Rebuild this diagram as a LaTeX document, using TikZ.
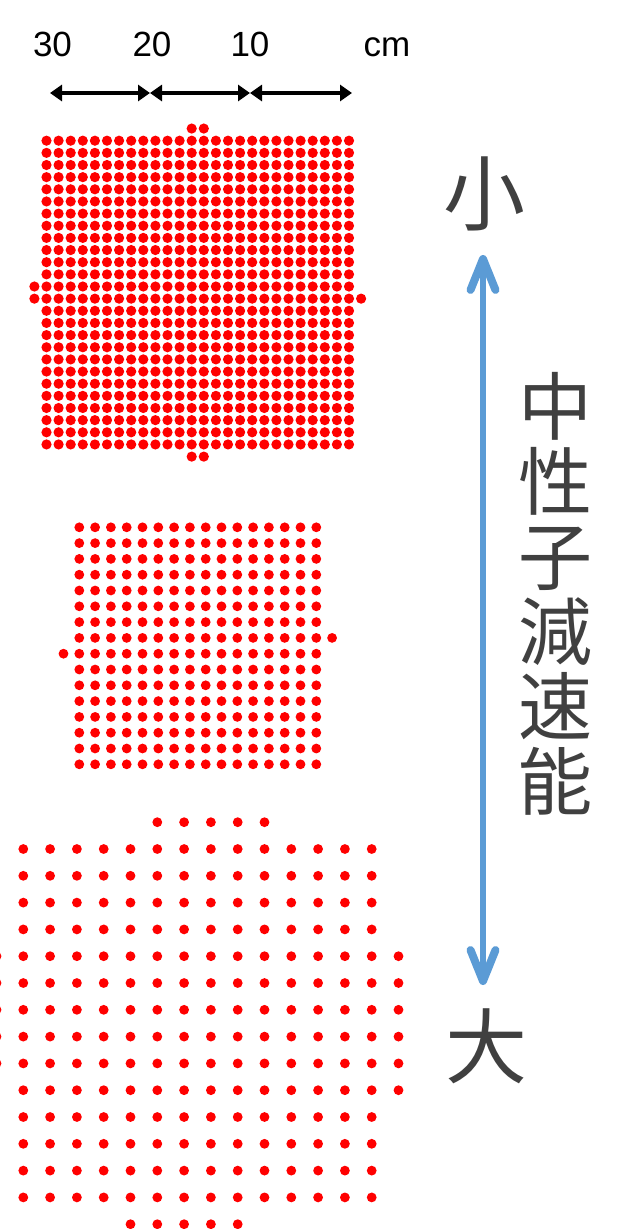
\documentclass[tikz,border=0pt]{standalone}
\usepackage{fontspec}
\setmainfont{Liberation Sans}
\newfontfamily\cjk{Noto Sans CJK JP}
\usetikzlibrary{arrows.meta}
\definecolor{dotred}{RGB}{255,0,0}
\definecolor{cjkgray}{RGB}{64,64,64}
\definecolor{scaleblue}{RGB}{91,155,213}
\tikzset{
  dotA/.style={fill=dotred},
  scalearrow/.style={line width=3.2pt,{Triangle[length=12pt,width=16pt]}-{Triangle[length=12pt,width=16pt]}},
  numlbl/.style={font=\fontsize{35}{40}\selectfont, anchor=base, inner sep=0pt},
  bigcjk/.style={font=\cjk\fontsize{82}{82}\selectfont, text=cjkgray, inner sep=0pt},
  vertcjk/.style={font=\cjk\fontsize{74}{75}\selectfont, text=cjkgray, inner sep=0pt, align=center},
  bluearrow/.style={draw=scaleblue, line width=6.5pt, line cap=round,
    {Straight Barb[length=31pt,width=25pt,round,line width=8pt]}-{Straight Barb[length=31pt,width=25pt,round,line width=8pt]}}
}
\begin{document}
\begin{tikzpicture}[x=1pt,y=-1pt]
\useasboundingbox (0,0) rectangle (630,1229);
% scale bar
\node[numlbl] (l30) at (52.5,56) {30};
\node[numlbl] (l20) at (152,56) {20};
\node[numlbl] (l10) at (250,56) {10};
\node[numlbl] (lcm) at (387,56) {cm};
\coordinate (s30) at (50,93);
\coordinate (s20) at (150,93);
\coordinate (s10) at (250,93);
\coordinate (s0) at (352,93);
\draw[scalearrow] (s30) -- (s20);
\draw[scalearrow] (s20) -- (s10);
\draw[scalearrow] (s10) -- (s0);
% grid 1
\foreach \i in {0,...,25}{\foreach \j in {0,...,25}{
  \fill[dotA] ({46.5+12.1*\i},{140.7+12.15*\j}) circle (5.1);}}
\foreach \i in {12,13}{
  \fill[dotA] ({46.5+12.1*\i},{140.7-12.15}) circle (5.1);
  \fill[dotA] ({46.5+12.1*\i},{140.7+12.15*26}) circle (5.1);}
\foreach \j in {12,13}{\fill[dotA] ({46.5-12.1},{140.7+12.15*\j}) circle (5.1);}
\fill[dotA] ({46.5+12.1*26},{140.7+12.15*13}) circle (5.1);
% grid 2
\foreach \i in {0,...,15}{\foreach \j in {0,...,15}{
  \fill[dotA] ({79.3+15.8*\i},{527.3+15.8*\j}) circle (4.9);}}
\fill[dotA] ({79.3-15.8},{527.3+15.8*8}) circle (4.9);
\fill[dotA] ({79.3+15.8*16},{527.3+15.8*7}) circle (4.9);
% grid 3
\foreach \i in {0,...,13}{\foreach \j in {0,...,13}{
  \fill[dotA] ({23.3+26.8*\i},{849+26.8*\j}) circle (4.9);}}
\foreach \i in {5,...,9}{\fill[dotA] ({23.3+26.8*\i},{849-26.8}) circle (4.9);}
\foreach \i in {4,...,8}{\fill[dotA] ({23.3+26.8*\i},{849+26.8*14}) circle (4.9);}
\foreach \j in {4,...,8}{\fill[dotA] ({23.3-26.8},{849+26.8*\j}) circle (4.9);}
\foreach \j in {4,...,9}{\fill[dotA] ({23.3+26.8*14},{849+26.8*\j}) circle (4.9);}
% right side
\node[bigcjk] (sho) at (484,194) {小};
\node[bigcjk] (dai) at (486,1046) {大};
\node[vertcjk] (lbl) at (555,594) {中\\性\\子\\減\\速\\能};
\coordinate (arrTop) at (483,255);
\coordinate (arrBot) at (483,985);
\draw[bluearrow] (arrBot) -- (arrTop);
\end{tikzpicture}
\end{document}
